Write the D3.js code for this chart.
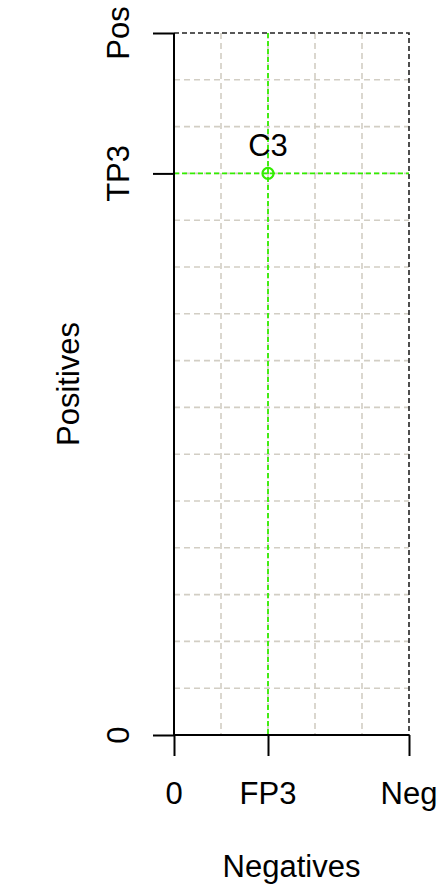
<!DOCTYPE html>
<html>
<head>
<meta charset="utf-8">
<script src="https://cdn.jsdelivr.net/npm/d3@7"></script>
<style>
  body { margin: 0; background: #fff; }
  text { font-family: "Liberation Sans", Arial, sans-serif; fill: #000; }
</style>
</head>
<body>
<svg class="chart"></svg>
<script>
// chart data
var negTotal = 5, posTotal = 15;
var points = [{name: "C3", fp: 2, tp: 12}];
var xTickVals = [0, 2, 5], xTickLabels = ["0", "FP3", "Neg"];
var yTickVals = [0, 12, 15], yTickLabels = ["0", "TP3", "Pos"];
var xGrid = d3.range(0, negTotal + 1);
var yGrid = d3.range(0, posTotal + 1);

var W = 442, H = 888;
var pLeft = 174, pRight = 409, pTop = 33, pBottom = 735;
var green = "#33ee00", gridCol = "#d2cec4";
var fs = 31;

var svg = d3.select("svg.chart").attr("width", W).attr("height", H);

var x = d3.scaleLinear().domain([0, negTotal]).range([pLeft, pRight]);
var y = d3.scaleLinear().domain([0, posTotal]).range([pBottom, pTop]);

// grid
svg.append("g").selectAll("line").data(xGrid.slice(1, -1)).enter().append("line")
	.attr("x1", d => x(d)).attr("x2", d => x(d))
	.attr("y1", pTop).attr("y2", pBottom)
	.attr("stroke", gridCol).attr("stroke-width", 1.6).attr("stroke-dasharray", "6,4");
svg.append("g").selectAll("line").data(yGrid.slice(1, -1)).enter().append("line")
	.attr("y1", d => y(d)).attr("y2", d => y(d))
	.attr("x1", pLeft).attr("x2", pRight)
	.attr("stroke", gridCol).attr("stroke-width", 1.6).attr("stroke-dasharray", "6,4");

// green guide lines
points.forEach(function(p) {
	svg.append("line").attr("x1", x(p.fp)).attr("x2", x(p.fp)).attr("y1", pTop).attr("y2", pBottom)
		.attr("stroke", green).attr("stroke-width", 1.8).attr("stroke-dasharray", "5,3");
	svg.append("line").attr("x1", pLeft).attr("x2", pRight).attr("y1", y(p.tp)).attr("y2", y(p.tp))
		.attr("stroke", green).attr("stroke-width", 1.8).attr("stroke-dasharray", "5,3");
});

// top/right dashed border
svg.append("path")
	.attr("d", "M" + pLeft + "," + pTop + "H" + pRight + "V" + pBottom)
	.attr("fill", "none").attr("stroke", "#222").attr("stroke-width", 1.6).attr("stroke-dasharray", "5,3");

// axes
var xAxis = d3.axisBottom(x).tickValues(xTickVals).tickSize(21).tickFormat("");
var yAxis = d3.axisLeft(y).tickValues(yTickVals).tickSize(21).tickFormat("");
svg.append("g").attr("transform", "translate(0," + pBottom + ")").call(xAxis)
	.call(g => g.selectAll("line,path").attr("stroke", "#000").attr("stroke-width", 2))
	.call(g => g.select(".domain").attr("d", "M" + pLeft + ",0H" + pRight));
svg.append("g").attr("transform", "translate(" + pLeft + ",0)").call(yAxis)
	.call(g => g.selectAll("line,path").attr("stroke", "#000").attr("stroke-width", 2))
	.call(g => g.select(".domain").attr("d", "M0," + pTop + "V" + pBottom));

// tick labels
svg.append("g").selectAll("text").data(xTickVals).enter().append("text")
	.attr("x", d => x(d)).attr("y", 804)
	.attr("text-anchor", "middle").attr("font-size", fs)
	.text((d, i) => xTickLabels[i]);
svg.append("g").selectAll("text").data(yTickVals).enter().append("text")
	.attr("transform", d => "translate(129," + y(d) + ") rotate(-90)")
	.attr("text-anchor", "middle").attr("font-size", fs)
	.text((d, i) => yTickLabels[i]);

// axis titles
svg.append("text").attr("x", (pLeft + pRight) / 2).attr("y", 877)
	.attr("text-anchor", "middle").attr("font-size", fs).text("Negatives");
svg.append("text").attr("transform", "translate(79," + (pTop + pBottom) / 2 + ") rotate(-90)")
	.attr("text-anchor", "middle").attr("font-size", fs).text("Positives");

// points
var pt = svg.append("g").selectAll("g").data(points).enter().append("g");
pt.append("circle").attr("cx", d => x(d.fp)).attr("cy", d => y(d.tp)).attr("r", 5.5)
	.attr("fill", "none").attr("stroke", green).attr("stroke-width", 2.2);
pt.append("text").attr("x", d => x(d.fp)).attr("y", d => y(d.tp) - 17)
	.attr("text-anchor", "middle").attr("font-size", fs).text(d => d.name);
</script>
</body>
</html>
